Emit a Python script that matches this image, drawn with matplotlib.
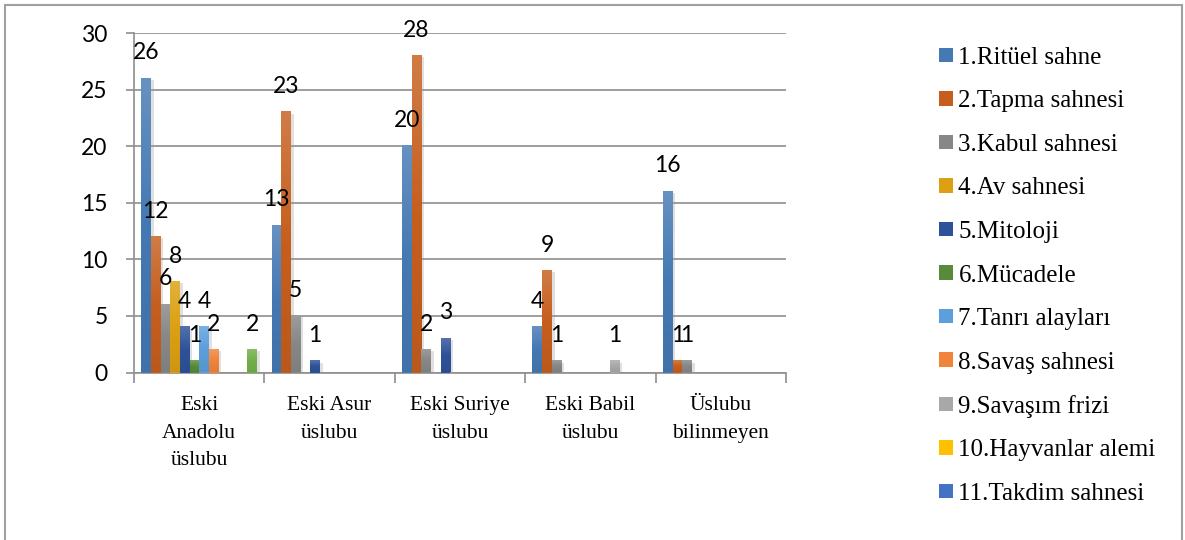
import numpy as np
import matplotlib
matplotlib.use("Agg")
import matplotlib.pyplot as plt
import matplotlib.patheffects as pe
from matplotlib.colors import LinearSegmentedColormap, to_rgb
from matplotlib.patches import Patch, Rectangle

nan = np.nan

categories = ["Eski\nAnadolu\nüslubu", "Eski Asur\nüslubu", "Eski Suriye\nüslubu",
              "Eski Babil\nüslubu", "Üslubu\nbilinmeyen"]

series_names = ["1.Ritüel sahne", "2.Tapma sahnesi", "3.Kabul sahnesi", "4.Av sahnesi",
                "5.Mitoloji", "6.Mücadele", "7.Tanrı alayları", "8.Savaş sahnesi",
                "9.Savaşım frizi", "10.Hayvanlar alemi", "11.Takdim sahnesi"]

ritual = [26, 13, 20, 4, 16]
tapma = [12, 23, 28, 9, 1]
kabul = [6, 5, 2, 1, 1]
av = [8, nan, nan, nan, nan]
mitoloji = [4, 1, 3, nan, nan]
mucadele = [1, nan, nan, nan, nan]
tanri_alaylari = [4, nan, nan, nan, nan]
savas = [2, nan, nan, nan, nan]
savasim_frizi = [nan, nan, nan, 1, nan]
hayvanlar = [nan, nan, nan, nan, nan]
takdim = [nan, nan, nan, nan, nan]
series12 = [2, nan, nan, nan, nan]

all_series = [ritual, tapma, kabul, av, mitoloji, mucadele, tanri_alaylari, savas,
              savasim_frizi, hayvanlar, takdim, series12]

colors = ["#4579B3", "#C65F1E", "#878787", "#DCA012", "#2E529A", "#578A3A",
          "#5C9FDC", "#F0843A", "#A8A8A8", "#FFC000", "#4472C4", "#72AF4A"]

yticks = [0, 5, 10, 15, 20, 25, 30]

num_font = "Lato"
serif_font = "Liberation Serif"
grid_col = "#8E8E8E"


def shade(color, amount):
    """Blend towards white (amount > 0) or black (amount < 0)."""
    rgb = np.array(to_rgb(color))
    if amount >= 0:
        return tuple(rgb + (1 - rgb) * amount)
    return tuple(rgb * (1 + amount))


fig = plt.figure(figsize=(11.85, 5.4), dpi=100)
ax = fig.add_axes([134 / 1185, 1 - 372.5 / 540, (786 - 134) / 1185, (372.5 - 33.3) / 540])

n = len(all_series)
w = 1.0 / (n + 1.5)
x = np.arange(len(categories))

shadow = [pe.SimplePatchShadow(offset=(2, -1), shadow_rgbFace="#9A9A9A", alpha=0.3),
          pe.Normal()]
ramp = np.linspace(0, 1, 64).reshape(-1, 1)

for i, (vals, col) in enumerate(zip(all_series, colors)):
    vals = np.array(vals, dtype=float)
    pos = x - n * w / 2 + (i + 0.5) * w
    lbl = series_names[i] if i < len(series_names) else "_nolegend_"
    bars = ax.bar(pos, np.nan_to_num(vals), width=w, color=col, label=lbl, zorder=3,
                  path_effects=shadow)
    cmap = LinearSegmentedColormap.from_list(
        f"grad{i}", [shade(col, -0.06), col, shade(col, 0.18)])
    for b in bars:
        h = b.get_height()
        if h > 0:
            x0 = b.get_x()
            ax.imshow(ramp, extent=[x0, x0 + b.get_width(), 0, h], origin="lower",
                      cmap=cmap, aspect="auto", zorder=3.5, interpolation="bilinear")
    for xp, v in zip(pos, vals):
        if not np.isnan(v):
            ax.annotate(f"{v:g}", (xp, v), xytext=(0, 18.5), textcoords="offset points",
                        ha="center", va="center", fontsize=16.5, family=num_font,
                        color="black", zorder=5)

ax.set_xlim(-0.5, len(categories) - 0.5)
ax.set_ylim(0, 30)
ax.set_yticks(yticks)
ax.set_yticklabels([str(t) for t in yticks], fontsize=16.5, family=num_font)
ax.tick_params(axis="y", length=6, width=1.2, color=grid_col, pad=13)

ax.set_xticks(x)
ax.set_xticklabels(categories, fontsize=15.5, family=serif_font, linespacing=1.62)
ax.set_xticks(np.arange(-0.5, len(categories)), minor=True)
ax.tick_params(axis="x", which="major", length=0, pad=17)
ax.tick_params(axis="x", which="minor", length=7, width=1.2, color=grid_col)

ax.yaxis.grid(True, color=grid_col, linewidth=1.2, zorder=0)
ax.set_axisbelow(True)
for side in ["top", "right"]:
    ax.spines[side].set_visible(False)
for side in ["left", "bottom"]:
    ax.spines[side].set_color(grid_col)
    ax.spines[side].set_linewidth(1.2)

handles = [Patch(facecolor=c, edgecolor="none") for c in colors[:len(series_names)]]
fig.legend(handles, series_names, loc="upper left",
           bbox_to_anchor=(939 / 1185, 1 - 47 / 540), frameon=False,
           prop={"family": serif_font, "size": 18}, handlelength=0.56, handleheight=0.52,
           handletextpad=0.22, labelspacing=0.86, borderpad=0, borderaxespad=0)

fig.patches.append(Rectangle((5 / 1185, -0.05), (1182 - 5) / 1185, 1.05 - 5 / 540,
                             transform=fig.transFigure, fill=False,
                             edgecolor="#A0A0A0", linewidth=1.5))

fig.savefig("out.png", dpi=100, facecolor="white")
